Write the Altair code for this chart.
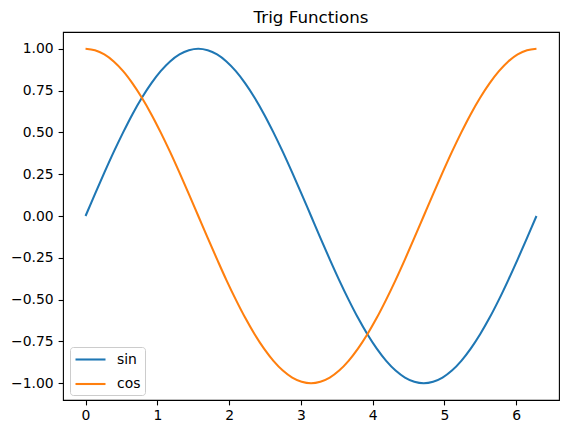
import altair as alt
import pandas as pd

x_vals = [0.000, 0.131, 0.262, 0.393, 0.524, 0.654, 0.785, 0.916, 1.047, 1.178, 1.309, 1.440,
          1.571, 1.702, 1.833, 1.963, 2.094, 2.225, 2.356, 2.487, 2.618, 2.749, 2.880, 3.011,
          3.142, 3.272, 3.403, 3.534, 3.665, 3.796, 3.927, 4.058, 4.189, 4.320, 4.451, 4.581,
          4.712, 4.843, 4.974, 5.105, 5.236, 5.367, 5.498, 5.629, 5.760, 5.890, 6.021, 6.152,
          6.283]
sin_vals = [0.000, 0.131, 0.259, 0.383, 0.500, 0.609, 0.707, 0.793, 0.866, 0.924, 0.966, 0.991,
            1.000, 0.991, 0.966, 0.924, 0.866, 0.793, 0.707, 0.609, 0.500, 0.383, 0.259, 0.131,
            0.000, -0.131, -0.259, -0.383, -0.500, -0.609, -0.707, -0.793, -0.866, -0.924,
            -0.966, -0.991, -1.000, -0.991, -0.966, -0.924, -0.866, -0.793, -0.707, -0.609,
            -0.500, -0.383, -0.259, -0.131, 0.000]
cos_vals = [1.000, 0.991, 0.966, 0.924, 0.866, 0.793, 0.707, 0.609, 0.500, 0.383, 0.259, 0.131,
            0.000, -0.131, -0.259, -0.383, -0.500, -0.609, -0.707, -0.793, -0.866, -0.924,
            -0.966, -0.991, -1.000, -0.991, -0.966, -0.924, -0.866, -0.793, -0.707, -0.609,
            -0.500, -0.383, -0.259, -0.131, 0.000, 0.131, 0.259, 0.383, 0.500, 0.609, 0.707,
            0.793, 0.866, 0.924, 0.966, 0.991, 1.000]
series = ["sin", "cos"]
colors = ["#1f77b4", "#ff7f0e"]
x_ticks = [0, 1, 2, 3, 4, 5, 6]
y_ticks = [-1.0, -0.75, -0.5, -0.25, 0.0, 0.25, 0.5, 0.75, 1.0]

rows = []
for i, xv in enumerate(x_vals):
    rows.append({"x": xv, "y": sin_vals[i], "s": "sin", "o": i})
    rows.append({"x": xv, "y": cos_vals[i], "s": "cos", "o": i})
df = pd.DataFrame(rows)

FONT = "DejaVu Sans"
FS = 13.9

chart = alt.Chart(df).mark_line(strokeWidth=2.08, interpolate="catmull-rom").encode(
    x=alt.X("x:Q", scale=alt.Scale(domain=[-0.314, 6.597], nice=False, zero=False),
            axis=alt.Axis(values=x_ticks, title=None, format="d", grid=False,
                          domain=False, tickColor="black", tickSize=4.9, tickWidth=1.1,
                          labelColor="black", labelFontSize=FS, labelFont=FONT,
                          labelPadding=4, labelFlush=False)),
    y=alt.Y("y:Q", scale=alt.Scale(domain=[-1.1, 1.1], nice=False, zero=False),
            axis=alt.Axis(values=y_ticks, title=None, format=".2f", grid=False,
                          domain=False, tickColor="black", tickSize=4.9, tickWidth=1.1,
                          labelColor="black", labelFontSize=FS, labelFont=FONT,
                          labelPadding=5, labelFlush=False)),
    color=alt.Color("s:N", scale=alt.Scale(domain=series, range=colors),
                    legend=alt.Legend(title=None, orient="none", legendX=7, legendY=315,
                                      symbolType="M-1,0H3.286", symbolSize=196,
                                      symbolStrokeWidth=2.08, symbolFillColor="transparent",
                                      labelFontSize=FS,
                                      labelFont=FONT, labelColor="black",
                                      padding=4, rowPadding=8.5,
                                      strokeColor="#cccccc", fillColor="white",
                                      cornerRadius=3, labelOffset=26)),
    order="o:Q",
).properties(
    width=496, height=368,
    title=alt.TitleParams("Trig Functions", font=FONT, fontSize=16.7,
                          fontWeight="normal", color="black", offset=5),
    autosize=alt.AutoSizeParams(type="none"),
    padding={"left": 63, "top": 32, "right": 9, "bottom": 34},
).configure(background="white").configure_view(stroke="black", strokeWidth=1.1)

chart.save("out.html", embed_options={"renderer": "svg", "actions": False})
